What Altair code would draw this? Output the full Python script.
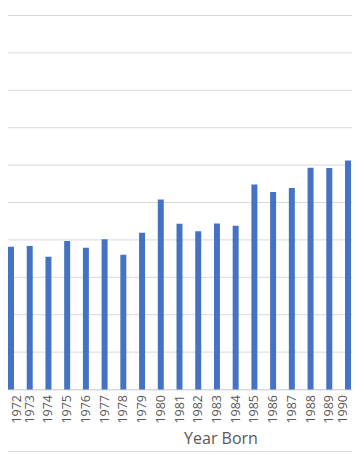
import altair as alt
import pandas as pd

years = [str(y) for y in range(1972, 1991)]
values = [3.82, 3.84, 3.55, 3.97, 3.79, 4.02, 3.60, 4.19, 5.08, 4.43,
          4.23, 4.44, 4.38, 5.48, 5.28, 5.39, 5.93, 5.92, 6.12]
grid_values = list(range(0, 11))

df = pd.DataFrame({"year": years, "value": values})
gdf = pd.DataFrame({"g": grid_values})

W = 344
H = 374

yscale = alt.Scale(domain=[0, 10], nice=False)

grid = alt.Chart(gdf).mark_rule(color="#d9d9d9", strokeWidth=1).encode(
    y=alt.Y("g:Q", scale=yscale, axis=None),
    x=alt.value(0), x2=alt.value(W),
)

label_offset = {
    "condition": [
        {"test": "datum.value === '1972'", "value": 6},
        {"test": "datum.value === '1990'", "value": -5},
    ],
    "value": 0,
}

bars = alt.Chart(df).mark_bar(color="#4472C4").encode(
    x=alt.X("year:N",
            scale=alt.Scale(range=[0, 343], paddingInner=0.68, paddingOuter=0),
            axis=alt.Axis(title="Year Born", labelAngle=270, labelAlign="right",
                          labelBaseline="middle", labelPadding=5, tickSize=0,
                          labelFont="Open Sans", labelFontSize=12.5,
                          labelColor="#595959", domainColor="#d9d9d9",
                          labelOffset=label_offset,
                          titleFont="Open Sans", titleFontSize=16,
                          titleFontWeight="normal", titleColor="#595959",
                          titleX=212.5, titleY=54, titleAlign="center",
                          titleBaseline="alphabetic")),
    y=alt.Y("value:Q", scale=yscale, axis=None),
)

border = alt.Chart(gdf).mark_rule(color="#d9d9d9", strokeWidth=1, clip=False).encode(
    x=alt.value(0), x2=alt.value(W), y=alt.value(436)
)

chart = alt.layer(grid, bars, border).properties(
    width=W, height=H,
    autosize=alt.AutoSizeParams(type="none"),
    padding={"left": 0, "top": 7.5, "right": 0, "bottom": 62.5},
).configure_view(stroke=None)

chart.save("out.html", embed_options={"renderer": "svg", "actions": False})
